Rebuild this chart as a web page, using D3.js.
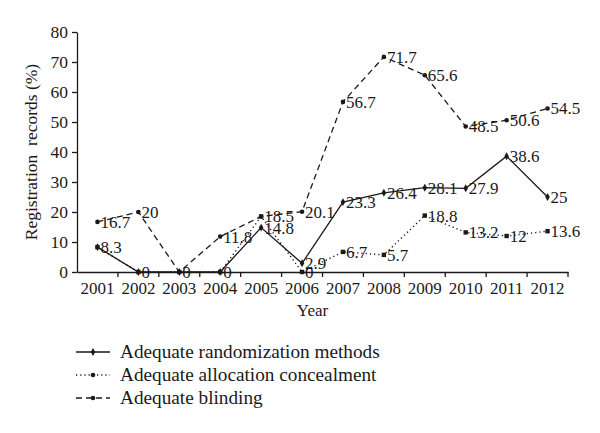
<!DOCTYPE html>
<html><head><meta charset="utf-8">
<script src="https://cdn.jsdelivr.net/npm/d3@7"></script>
<style>body{margin:0;background:#fff}text{font-family:"Liberation Serif","DejaVu Serif",serif;fill:#1a1a1a}</style>
</head><body><svg id="c" width="600" height="433"></svg>
<script>
const years = ["2001","2002","2003","2004","2005","2006","2007","2008","2009","2010","2011","2012"];
const randomization = [8.3,0,0,0,14.8,2.9,23.3,26.4,28.1,27.9,38.6,25];
const allocation = [8.3,0,0,0,18.5,0,6.7,5.7,18.8,13.2,12,13.6];
const blinding = [16.7,20,0,11.8,18.5,20.1,56.7,71.7,65.6,48.5,50.6,54.5];
const yTicks = [0,10,20,30,40,50,60,70,80];
const seriesNames = ["Adequate randomization methods","Adequate allocation concealment","Adequate blinding"];

const series = [
  {name:seriesNames[0], values:randomization, dash:null, marker:"diamond"},
  {name:seriesNames[2], values:blinding, dash:"6,4", marker:"circle"},
  {name:seriesNames[1], values:allocation, dash:"1.2,3", marker:"square"}
];

const svg = d3.select("#c");
const L=77, R=568, T=32, B=272;
const x = d3.scaleBand().domain(years).range([L,R]);
const y = d3.scaleLinear().domain([0,80]).range([B,T]);
const ink="#1a1a1a";

// axes
const yAxis = svg.append("g").attr("transform",`translate(${L},0)`)
  .call(d3.axisLeft(y).tickValues(yTicks).tickSize(5).tickSizeOuter(0));
yAxis.select(".domain").attr("stroke",ink).attr("stroke-width",1.3);
yAxis.selectAll(".tick line").attr("stroke",ink).attr("stroke-width",1.3);
yAxis.selectAll("text").attr("font-size",17.5).attr("x",-9).style("font-family","Liberation Serif");

const xAxis = svg.append("g").attr("transform",`translate(0,${B})`)
  .call(d3.axisBottom(x).tickSize(0).tickSizeOuter(0));
xAxis.select(".domain").attr("stroke",ink).attr("stroke-width",1.3);
xAxis.selectAll("text").attr("font-size",17).attr("y",10).style("font-family","Liberation Serif");
// boundary ticks
const bounds = years.map(d=>x(d)).concat([R]).slice(1);
xAxis.selectAll(".btick").data(bounds).join("line")
  .attr("x1",d=>d).attr("x2",d=>d).attr("y1",0).attr("y2",5)
  .attr("stroke",ink).attr("stroke-width",1.3);

svg.append("text").attr("x",(L+R)/2-10).attr("y",316).attr("text-anchor","middle")
  .attr("font-size",17).text("Year");
svg.append("text").attr("transform",`translate(37,${(T+B)/2}) rotate(-90)`)
  .attr("text-anchor","middle").attr("font-size",17.5).attr("xml:space","preserve").text("Registration  records (%)");

const cx = d => x(d)+x.bandwidth()/2;
const line = d3.line().x((v,i)=>cx(years[i])).y(v=>y(v));

function marker(g, mk, px, py){
  if(mk==="diamond") g.append("path").attr("d",d3.symbol(d3.symbolDiamond,18)()).attr("transform",`translate(${px},${py})`).attr("fill",ink);
  else if(mk==="square") g.append("rect").attr("x",px-2.2).attr("y",py-2.2).attr("width",4.4).attr("height",4.4).attr("fill",ink);
  else g.append("circle").attr("cx",px).attr("cy",py).attr("r",2.3).attr("fill",ink);
}

const plot = svg.append("g");
series.forEach(s=>{
  plot.append("path").attr("d",line(s.values)).attr("fill","none").attr("stroke",ink)
    .attr("stroke-width",s.dash==="1.2,3"?1.4:1.3).attr("stroke-dasharray",s.dash);
});
series.forEach(s=>{
  s.values.forEach((v,i)=>marker(plot,s.marker,cx(years[i]),y(v)));
});
// labels (skip duplicates at same year/value)
const seen = new Set();
series.forEach(s=>{
  s.values.forEach((v,i)=>{
    const k=years[i]+"_"+v;
    if(seen.has(k)) return; seen.add(k);
    plot.append("text").attr("x",cx(years[i])+3).attr("y",y(v)).attr("dy","0.35em")
      .attr("font-size",17).text(v);
  });
});

// legend
const legend = svg.append("g");
const order = [series[0],series[2],series[1]];
order.forEach((s,i)=>{
  const ly = 352 + i*23;
  legend.append("line").attr("x1",76).attr("x2",110).attr("y1",ly).attr("y2",ly)
    .attr("stroke",ink).attr("stroke-width",s.dash==="1.2,3"?1.4:1.3).attr("stroke-dasharray",s.dash);
  marker(legend, s.marker==="square"?"circle":s.marker, 93, ly);
  legend.append("text").attr("transform",`translate(120,${ly}) scale(1.07,1)`).attr("dy","0.33em")
    .attr("font-size",18).text(s.name);
});
</script></body></html>
